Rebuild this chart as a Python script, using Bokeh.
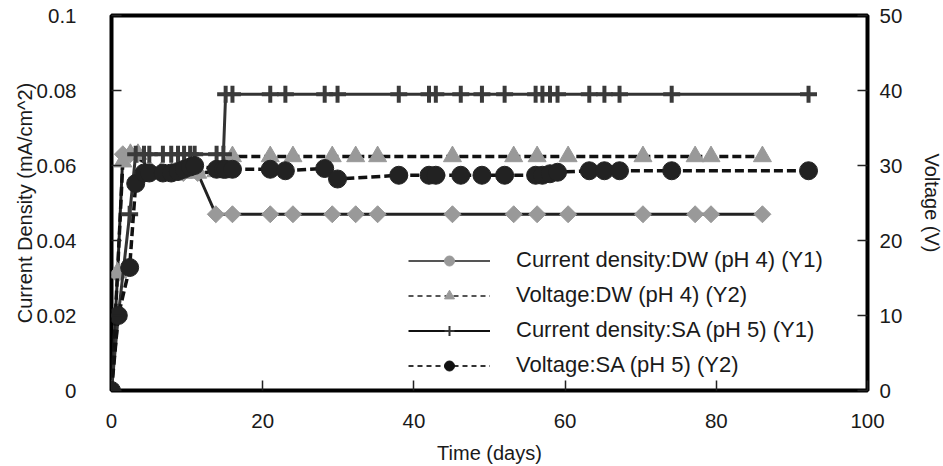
import math
from bokeh.plotting import figure
from bokeh.models import (Range1d, LinearAxis, Legend, LegendItem, ColumnDataSource,
                          FixedTicker)
from bokeh.embed import file_html
from bokeh.resources import INLINE

# ---------------- data ----------------
x_ticks = [0, 20, 40, 60, 80, 100]
cd_ticks = [0, 0.02, 0.04, 0.06, 0.08, 0.1]
cd_tick_labels = ["0", "0.02", "0.04", "0.06", "0.08", "0.1"]
v_ticks = [0, 10, 20, 30, 40, 50]

dw_days = [0, 0.8, 1.5, 2.5, 3.5, 5.0, 6.5, 8.0, 9.5, 11.4,
           13.8, 16.0, 21.0, 24.0, 29.2, 32.3, 35.2, 45.1, 53.2, 56.3, 60.4, 70.3, 77.2, 79.3, 86.1]
dw_cd = [0, 0.031, 0.063, 0.063, 0.063, 0.059, 0.058, 0.058, 0.058, 0.058,
         0.047, 0.047, 0.047, 0.047, 0.047, 0.047, 0.047, 0.047, 0.047, 0.047, 0.047, 0.047, 0.047, 0.047, 0.047]
dw_v = [0, 15.7, 30.5, 31.5, 31.5, 29.0, 29.0, 29.0, 29.0, 29.0,
        29.2, 31.2, 31.2, 31.2, 31.2, 31.2, 31.2, 31.2, 31.2, 31.2, 31.2, 31.2, 31.2, 31.2, 31.2]

sa_days = [0, 0.9, 2.4, 3.2, 4.3, 5.0, 6.8, 7.9, 8.8, 9.6, 10.4, 11.0, 13.9, 14.8, 15.1, 16.0,
           21.0, 23.0, 28.2, 29.9, 38.0, 42.0, 42.9, 46.2, 49.0, 52.0, 56.1, 57.0, 58.0, 59.0,
           63.2, 65.2, 67.2, 74.1, 92.2]
sa_cd = [0, 0.020, 0.047, 0.063, 0.063, 0.063, 0.063, 0.063, 0.063, 0.063, 0.063, 0.063, 0.063, 0.063,
         0.079, 0.079, 0.079, 0.079, 0.079, 0.079, 0.079, 0.079, 0.079, 0.079, 0.079, 0.079, 0.079,
         0.079, 0.079, 0.079, 0.079, 0.079, 0.079, 0.079, 0.079]
sa_v = [0, 10.0, 16.4, 27.6, 29.0, 29.0, 29.0, 29.0, 29.2, 29.5, 29.8, 30.0, 29.5, 29.5, 29.5, 29.5,
        29.5, 29.3, 29.6, 28.2, 28.7, 28.7, 28.7, 28.7, 28.7, 28.7, 28.7, 28.7, 28.9, 29.1,
        29.3, 29.3, 29.3, 29.3, 29.3]

labels = ["Current density:DW (pH 4) (Y1)", "Voltage:DW (pH 4) (Y2)",
          "Current density:SA (pH 5) (Y1)", "Voltage:SA (pH 5) (Y2)"]

FONT = "Liberation Sans"
TXT = "#1a1a1a"
GRAY = "#999999"

p = figure(frame_width=756, frame_height=375,
           x_range=Range1d(0, 100), y_range=Range1d(0, 0.1),
           output_backend="svg", toolbar_location=None,
           min_border_left=111, min_border_right=76, min_border_top=15, min_border_bottom=74)
p.extra_y_ranges = {"v": Range1d(0, 50)}
# range used only by the legend-sample renderers, so their points fall outside the frame
p.extra_x_ranges = {"legend_only": Range1d(-1000, -900)}
p.xgrid.visible = False
p.ygrid.visible = False
p.outline_line_color = "black"
p.outline_line_width = 4
p.background_fill_color = "white"
p.border_fill_color = "white"

p.xaxis.ticker = FixedTicker(ticks=x_ticks)
p.xaxis.axis_label = "Time (days)"
p.yaxis.ticker = FixedTicker(ticks=cd_ticks)
p.yaxis.major_label_overrides = dict(zip(cd_ticks, cd_tick_labels))
p.yaxis.axis_label = "Current Density (mA/cm^2)"

rax = LinearAxis(y_range_name="v", ticker=FixedTicker(ticks=v_ticks), axis_label="Voltage (V)")
p.add_layout(rax, "right")

for ax in [p.xaxis[0], p.yaxis[0], rax]:
    ax.axis_line_color = None
    ax.major_tick_in = 10
    ax.major_tick_out = 0
    ax.major_tick_line_color = "#222222"
    ax.major_tick_line_width = 1.5
    ax.minor_tick_line_color = None
    ax.major_label_text_font = FONT
    ax.major_label_text_font_size = "20.5px"
    ax.major_label_text_color = TXT
    ax.axis_label_text_font = FONT
    ax.axis_label_text_font_size = "20px"
    ax.axis_label_text_font_style = "normal"
    ax.axis_label_text_color = TXT

p.xaxis.major_label_standoff = 23
p.xaxis.axis_label_standoff = 11
p.yaxis.major_label_standoff = 35
p.yaxis.axis_label_standoff = -2
rax.major_label_standoff = 12
rax.axis_label_standoff = 16

dw = ColumnDataSource(dict(x=dw_days, cd=dw_cd, v=dw_v))
sa = ColumnDataSource(dict(x=sa_days, cd=sa_cd, v=sa_v))

DASH = "9 4"
# DW current density
p.line("x", "cd", source=dw, line_color="#222222", line_width=3)
p.scatter("x", "cd", source=dw, marker="square", angle=math.pi / 4, size=12,
          fill_color=GRAY, line_color=GRAY)
# DW voltage
p.line("x", "v", source=dw, y_range_name="v", line_color="#111111", line_width=3.5, line_dash=DASH)
p.scatter("x", "v", source=dw, y_range_name="v", marker="triangle", size=18,
          fill_color=GRAY, line_color=GRAY)
# SA current density
p.line("x", "cd", source=sa, line_color="#333333", line_width=3)
p.scatter("x", "cd", source=sa, marker="cross", size=17, line_color="#3a3a3a", line_width=4)
# SA voltage
p.line("x", "v", source=sa, y_range_name="v", line_color="#111111", line_width=3.5, line_dash=DASH)
p.scatter("x", "v", source=sa, y_range_name="v", marker="circle", size=18,
          fill_color="#222222", line_color="#222222")

# legend samples in the thin style of the original legend (drawn outside the frame)
LO = dict(x_range_name="legend_only")
l1 = p.line("x", "cd", source=dw, line_color="#555555", line_width=2, **LO)
m1 = p.scatter("x", "cd", source=dw, marker="circle", size=6, fill_color=GRAY, line_color=GRAY, **LO)
l2 = p.line("x", "v", source=dw, y_range_name="v", line_color="#555555", line_width=2, line_dash="5 4", **LO)
m2 = p.scatter("x", "v", source=dw, y_range_name="v", marker="triangle", size=8,
               fill_color=GRAY, line_color=GRAY, **LO)
l3 = p.line("x", "cd", source=sa, line_color="#111111", line_width=2, **LO)
m3 = p.scatter("x", "cd", source=sa, marker="cross", size=10,
               line_color="#333333", line_width=2, **LO)
l4 = p.line("x", "v", source=sa, y_range_name="v", line_color="#333333", line_width=2, line_dash="5 4", **LO)
m4 = p.scatter("x", "v", source=sa, y_range_name="v", marker="circle", size=9,
               fill_color="#111111", line_color="#111111", **LO)

legend = Legend(items=[LegendItem(label=labels[0], renderers=[l1, m1]),
                       LegendItem(label=labels[1], renderers=[l2, m2]),
                       LegendItem(label=labels[2], renderers=[l3, m3]),
                       LegendItem(label=labels[3], renderers=[l4, m4])],
                location=(297, 12))
legend.label_text_font = FONT
legend.label_text_font_size = "22px"
legend.label_text_color = TXT
legend.border_line_color = None
legend.background_fill_alpha = 0
legend.glyph_width = 82
legend.glyph_height = 25
legend.label_height = 25
legend.label_standoff = 26
legend.spacing = 9
legend.padding = 5
legend.margin = 0
p.add_layout(legend, "center")

open("out.html", "w").write(file_html(p, INLINE))
